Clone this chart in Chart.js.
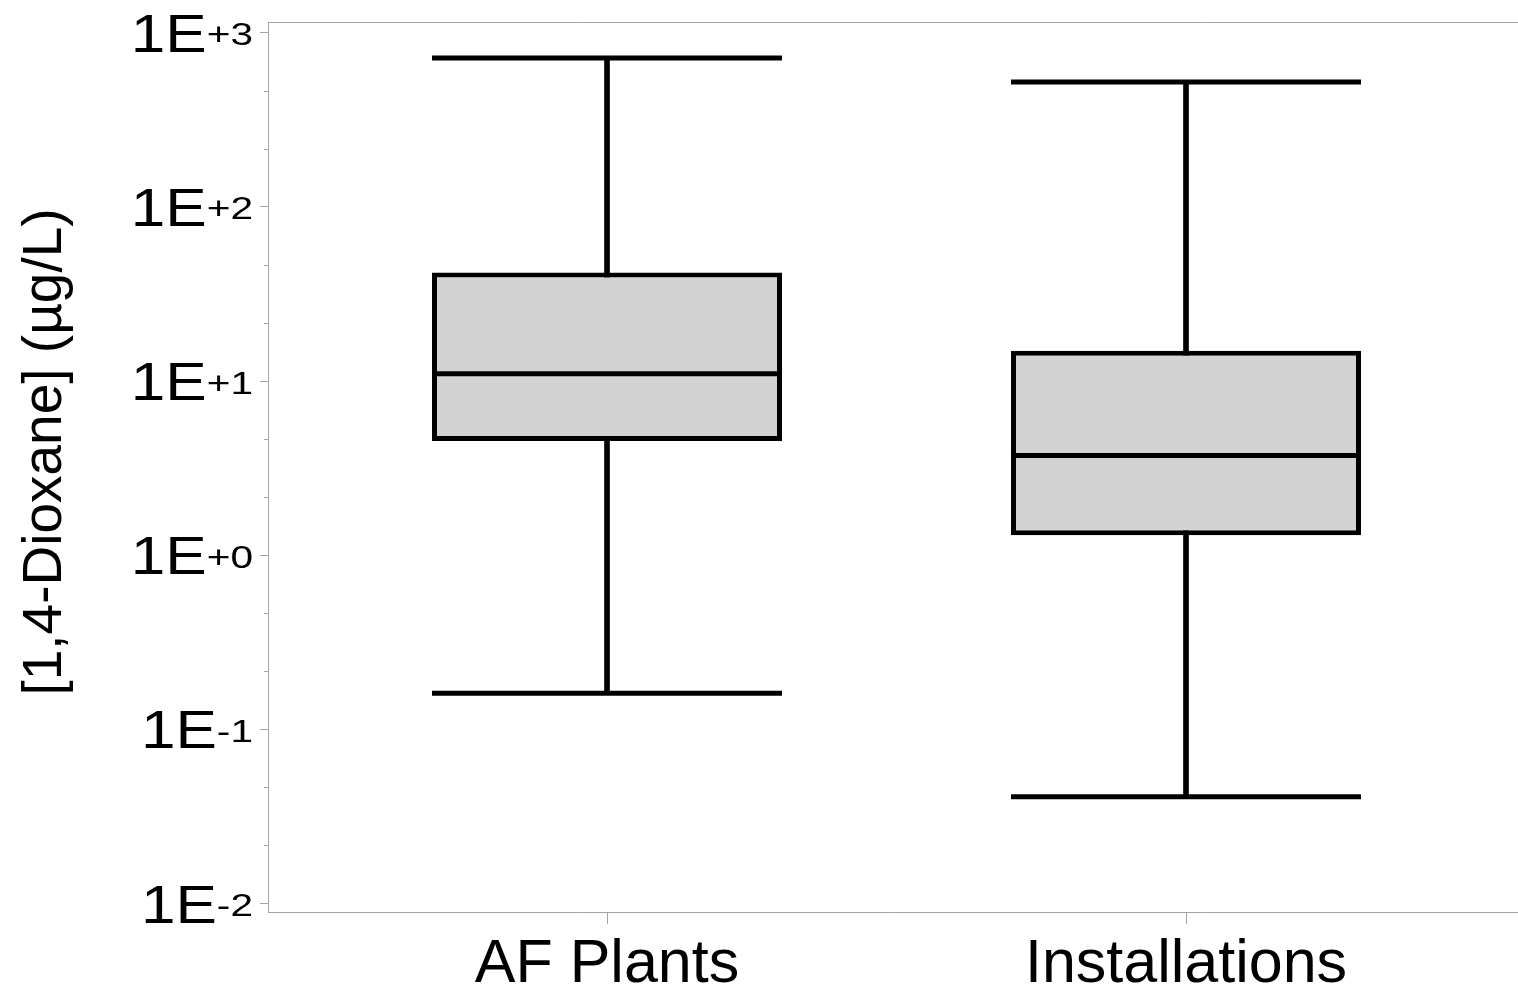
<!DOCTYPE html>
<html>
<head>
<meta charset="utf-8">
<script src="https://cdn.jsdelivr.net/npm/chart.js@4.4.0/dist/chart.umd.min.js"></script>
<style>
html,body{margin:0;padding:0;background:#fff;overflow:hidden}
#wrap{width:1518px;height:990px;position:relative}
</style>
</head>
<body>
<div id="wrap"><canvas id="c"></canvas></div>
<script>
// ---- data ----
const categories = ['AF Plants', 'Installations'];
const whiskerLow = [0.161, 0.0410];
const q1 = [4.52, 1.30];
const median = [11.0, 3.73];
const q3 = [42.0, 14.9];
const whiskerHigh = [715, 521];
const yTickExponents = [-2, -1, 0, 1, 2, 3];
const yTitle = '[1,4-Dioxane] (\u00B5g/L)';
const yMin = 0.00894, yMax = 1152;

const FONT = '"Liberation Sans", Arial, Helvetica, sans-serif';
const AXIS_GRAY = '#a0a5a9';

const extras = {
  id: 'extras',
  afterDatasetsDraw(chart) {
    const ctx = chart.ctx;
    const ys = chart.scales.y;
    const meta = chart.getDatasetMeta(0);
    ctx.save();
    ctx.strokeStyle = '#000';
    ctx.lineWidth = 5;
    ctx.lineCap = 'butt';
    meta.data.forEach((el, i) => {
      const p = el.getProps(['x', 'width'], true);
      const half = p.width / 2;
      [whiskerHigh[i], whiskerLow[i], median[i]].forEach(v => {
        const y = ys.getPixelForValue(v);
        ctx.beginPath();
        ctx.moveTo(p.x - half, y);
        ctx.lineTo(p.x + half, y);
        ctx.stroke();
      });
    });
    ctx.restore();
  },
  afterDraw(chart) {
    const ctx = chart.ctx;
    const ys = chart.scales.y;
    const a = chart.chartArea;
    ctx.save();
    // top frame line
    ctx.strokeStyle = AXIS_GRAY;
    ctx.lineWidth = 1;
    ctx.beginPath();
    ctx.moveTo(a.left, Math.round(a.top) + 0.5);
    ctx.lineTo(a.right, Math.round(a.top) + 0.5);
    ctx.stroke();
    // minor ticks (thirds of each decade)
    for (let e = yTickExponents[0]; e < yTickExponents[yTickExponents.length - 1]; e++) {
      [1 / 3, 2 / 3].forEach(f => {
        const y = Math.round(ys.getPixelForValue(Math.pow(10, e + f))) + 0.5;
        ctx.beginPath();
        ctx.moveTo(a.left - 4, y);
        ctx.lineTo(a.left, y);
        ctx.stroke();
      });
    }
    // y tick labels "1E" + exponent
    ctx.fillStyle = '#000';
    ctx.textBaseline = 'alphabetic';
    const right = 253;
    yTickExponents.forEach(e => {
      const ty = ys.getPixelForValue(Math.pow(10, e));
      const sup = (e >= 0 ? '+' : '-') + Math.abs(e);
      ctx.font = '32px ' + FONT;
      const supScale = 1.27;
      const sw = ctx.measureText(sup).width * supScale;
      ctx.save();
      ctx.translate(right - sw, ty + 12.5);
      ctx.scale(supScale, 1);
      ctx.textAlign = 'left';
      ctx.fillText(sup, 0, 0);
      ctx.restore();
      ctx.font = '54px ' + FONT;
      const mainScale = 1.15;
      ctx.save();
      ctx.translate(right - sw, ty + 19);
      ctx.scale(mainScale, 1);
      ctx.textAlign = 'right';
      ctx.fillText('1E', 0, 0);
      ctx.restore();
    });
    // y axis title
    ctx.save();
    ctx.font = '55px ' + FONT;
    ctx.textAlign = 'center';
    ctx.textBaseline = 'alphabetic';
    ctx.translate(61, 452);
    ctx.rotate(-Math.PI / 2);
    ctx.fillText(yTitle, 0, 0);
    ctx.restore();
    ctx.restore();
  }
};

new Chart(document.getElementById('c'), {
  type: 'bar',
  data: {
    datasets: [
      {
        label: 'Box',
        data: categories.map((c, i) => ({ x: i + 1, y: [q1[i], q3[i]] })),
        backgroundColor: '#d3d3d3',
        borderColor: '#000',
        borderWidth: 5,
        borderSkipped: false,
        barPercentage: 0.6045,
        categoryPercentage: 1,
        grouped: false,
        order: 0
      },
      {
        label: 'Whisker',
        data: categories.map((c, i) => ({ x: i + 1, y: [whiskerLow[i], whiskerHigh[i]] })),
        backgroundColor: '#000',
        borderWidth: 0,
        barThickness: 5,
        grouped: false,
        order: 1
      }
    ]
  },
  options: {
    responsive: true,
    maintainAspectRatio: false,
    animation: false,
    layout: { padding: { top: 22, left: 0, right: 0, bottom: 0 } },
    plugins: { legend: { display: false }, tooltip: { enabled: false } },
    scales: {
      x: {
        type: 'linear',
        position: 'bottom',
        offset: false,
        min: 0.4145,
        max: 2.5734,
        afterBuildTicks: s => { s.ticks = categories.map((c, i) => ({ value: i + 1 })); },
        afterFit: s => { s.height = 78; },
        ticks: {
          autoSkip: false,
          maxRotation: 0,
          padding: 5,
          color: '#000',
          font: { family: FONT, size: 61, lineHeight: 1.2 },
          callback: v => categories[Math.round(v) - 1] || ''
        },
        grid: { offset: false, drawOnChartArea: false, drawTicks: true, tickLength: 12, tickColor: AXIS_GRAY, tickWidth: 1 },
        border: { color: AXIS_GRAY, width: 1 }
      },
      y: {
        type: 'logarithmic',
        min: yMin,
        max: yMax,
        afterBuildTicks: s => { s.ticks = yTickExponents.map(e => ({ value: Math.pow(10, e) })); },
        afterFit: s => { s.width = 268; },
        ticks: { display: false },
        grid: { drawOnChartArea: false, drawTicks: true, tickLength: 8, tickColor: AXIS_GRAY, tickWidth: 1 },
        border: { color: AXIS_GRAY, width: 1 }
      }
    }
  },
  plugins: [extras]
});
</script>
</body>
</html>
